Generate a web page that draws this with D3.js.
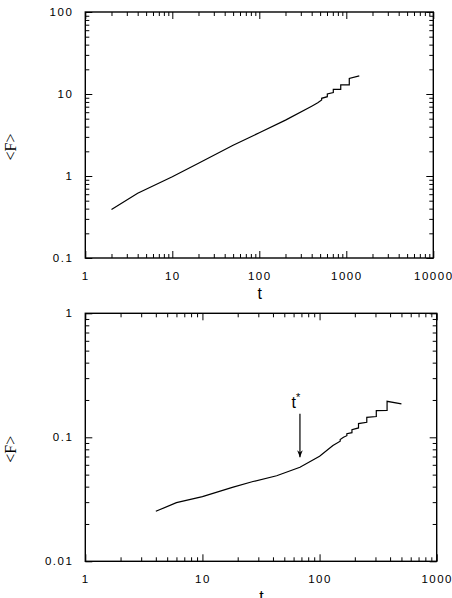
<html>
<head>
    <script src="https://d3js.org/d3.v7.min.js"></script>
    <style>
        body { margin: 0; background: white; }
        .tick text { font-family: "Liberation Sans", Arial, sans-serif; font-size: 11.5px; letter-spacing: 1.5px; }
    </style>
</head>
<body>
    <svg id="fig"></svg>
    <script>
        // upper panel: t vs <F>
        var topT = [2, 4, 10, 20, 50, 100, 200, 400, 470, 521, 521, 605, 605, 709, 709, 863, 863, 1082, 1082, 1410];
        var topF = [0.39, 0.615, 0.98, 1.43, 2.37, 3.37, 4.8, 7.1, 7.8, 8.45, 8.86, 9.27, 10.0, 10.4, 11.4, 11.4, 12.9, 12.9, 15.5, 16.6];
        var topXTicks = [1, 10, 100, 1000, 10000];
        var topYTicks = [0.1, 1, 10, 100];

        // lower panel
        var botT = [4, 6, 10, 18, 27, 43, 68, 100, 130, 150, 150, 160, 171, 171, 189, 189, 215, 215, 253, 253, 305, 305, 377, 377, 500];
        var botF = [0.0253, 0.0297, 0.0332, 0.0395, 0.044, 0.049, 0.0573, 0.0703, 0.0857, 0.093, 0.096, 0.1, 0.103, 0.107, 0.109, 0.115, 0.119, 0.129, 0.132, 0.145, 0.147, 0.164, 0.165, 0.195, 0.186];
        var botXTicks = [1, 10, 100, 1000];
        var botYTicks = [0.01, 0.1, 1];
        var tStar = 68;
        var arrowFrom = 0.155, arrowTo = 0.069;

        var W = 452, H = 598;
        var svg = d3.select("#fig").attr("width", W).attr("height", H);

        svg.append("defs").append("marker")
            .attr("id", "head").attr("viewBox", "0 0 10 10")
            .attr("refX", 10).attr("refY", 5)
            .attr("markerWidth", 7).attr("markerHeight", 7)
            .attr("markerUnits", "userSpaceOnUse")
            .attr("orient", "auto")
            .append("path").attr("d", "M0,1 L10,5 L0,9 L3,5 Z").attr("fill", "black");

        function minorTicks(domain) {
            var out = [];
            var a = Math.round(Math.log10(domain[0])), b = Math.round(Math.log10(domain[1]));
            for (var e = a; e < b; e++)
                for (var k = 2; k <= 9; k++) out.push(k * Math.pow(10, e));
            return out;
        }

        function panel(o) {
            var x = d3.scaleLog().domain(o.xdom).range([o.left, o.right]);
            var y = d3.scaleLog().domain(o.ydom).range([o.bottom, o.top]);
            var g = svg.append("g");
            var fmt = function(d) { return String(d); };

            // minor ticks on all sides
            g.append("g").attr("transform", "translate(0," + o.bottom + ")")
                .call(d3.axisBottom(x).tickValues(minorTicks(o.xdom)).tickSize(-4).tickFormat(""));
            g.append("g").attr("transform", "translate(0," + o.top + ")")
                .call(d3.axisTop(x).tickValues(minorTicks(o.xdom)).tickSize(-4).tickFormat(""));
            g.append("g").attr("transform", "translate(" + o.left + ",0)")
                .call(d3.axisLeft(y).tickValues(minorTicks(o.ydom)).tickSize(-4).tickFormat(""));
            g.append("g").attr("transform", "translate(" + o.right + ",0)")
                .call(d3.axisRight(y).tickValues(minorTicks(o.ydom)).tickSize(-4).tickFormat(""));

            // major ticks
            g.append("g").attr("transform", "translate(0," + o.bottom + ")")
                .call(d3.axisBottom(x).tickValues(o.xticks).tickSize(-7).tickPadding(14).tickFormat(fmt));
            g.append("g").attr("transform", "translate(0," + o.top + ")")
                .call(d3.axisTop(x).tickValues(o.xticks).tickSize(-7).tickFormat(""));
            g.append("g").attr("transform", "translate(" + o.left + ",0)")
                .call(d3.axisLeft(y).tickValues(o.yticks).tickSize(-7).tickPadding(12).tickFormat(fmt));
            g.append("g").attr("transform", "translate(" + o.right + ",0)")
                .call(d3.axisRight(y).tickValues(o.yticks).tickSize(-7).tickFormat(""));

            g.selectAll(".domain").remove();
            g.selectAll(".tick line").attr("stroke", "black").attr("stroke-width", 1);
            g.selectAll(".tick text").attr("fill", "black");

            g.append("rect")
                .attr("x", o.left).attr("y", o.top)
                .attr("width", o.right - o.left).attr("height", o.bottom - o.top)
                .attr("fill", "none").attr("stroke", "black").attr("stroke-width", 1.4);

            var pts = o.t.map(function(d, i) { return [d, o.f[i]]; });
            g.append("path")
                .attr("d", d3.line().x(function(d) { return x(d[0]); }).y(function(d) { return y(d[1]); })(pts))
                .attr("fill", "none").attr("stroke", "black").attr("stroke-width", 1.2);

            g.append("text")
                .attr("x", (o.left + o.right) / 2 + 0.5).attr("y", o.bottom + 41)
                .attr("text-anchor", "middle")
                .attr("font-family", "Liberation Sans, Arial, sans-serif").attr("font-size", 16)
                .text("t");

            var cy = (o.top + o.bottom) / 2 + 12;
            g.append("text")
                .attr("transform", "translate(16," + cy + ") rotate(-90)")
                .attr("text-anchor", "middle")
                .attr("font-family", "Liberation Serif, Times, serif").attr("font-size", 16)
                .text("<F>");

            return {x: x, y: y, g: g};
        }

        panel({
            left: 85.3, right: 433.3, top: 12, bottom: 258,
            xdom: [1, 10000], ydom: [0.1, 100],
            xticks: topXTicks, yticks: topYTicks,
            t: topT, f: topF
        });

        var p2 = panel({
            left: 85.3, right: 436.7, top: 313.3, bottom: 561.3,
            xdom: [1, 1000], ydom: [0.01, 1],
            xticks: botXTicks, yticks: botYTicks,
            t: botT, f: botF
        });

        // t* marker
        p2.g.append("line")
            .attr("x1", p2.x(tStar)).attr("x2", p2.x(tStar))
            .attr("y1", p2.y(arrowFrom)).attr("y2", p2.y(arrowTo))
            .attr("stroke", "black").attr("stroke-width", 1.2)
            .attr("marker-end", "url(#head)");
        var lab = p2.g.append("text")
            .attr("x", p2.x(tStar) - 4).attr("y", p2.y(arrowFrom) - 6)
            .attr("text-anchor", "middle")
            .attr("font-family", "Liberation Sans, Arial, sans-serif").attr("font-size", 16);
        lab.append("tspan").text("t");
        lab.append("tspan").attr("dy", -7).attr("font-size", 11).text("*");
    </script>
</body>
</html>
